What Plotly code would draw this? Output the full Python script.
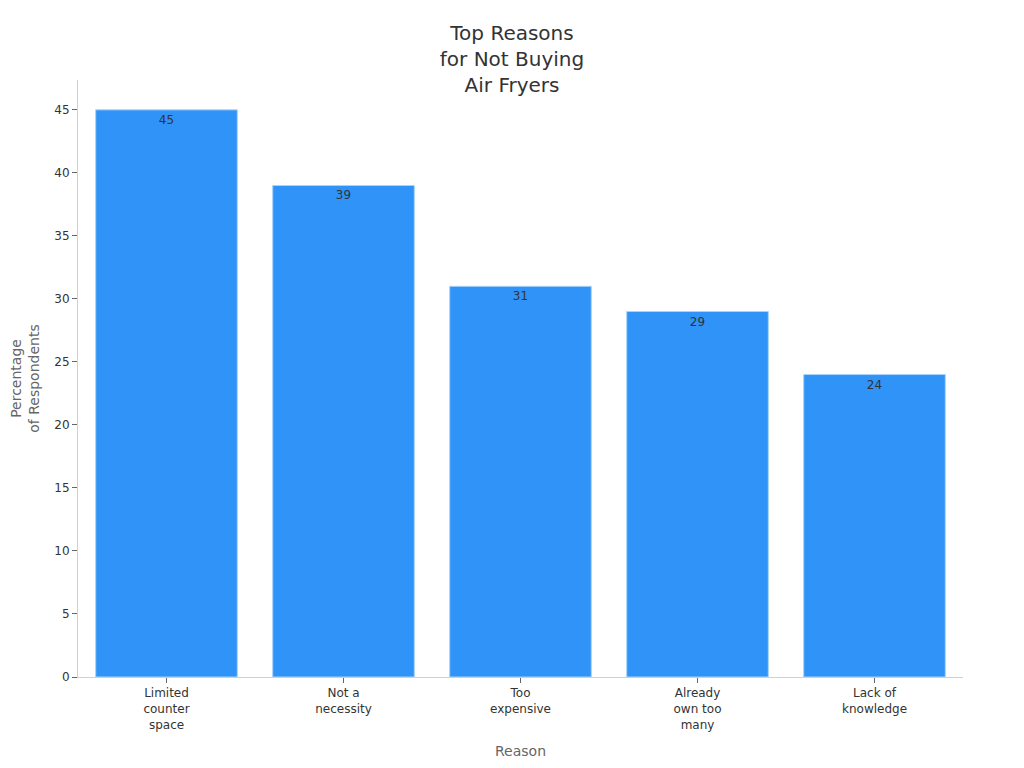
import plotly.graph_objs as go

# survey results
reasons = ['Limited<br>counter<br>space', 'Not a<br>necessity', 'Too<br>expensive',
           'Already<br>own too<br>many', 'Lack of<br>knowledge']
percentages = [45, 39, 31, 29, 24]

bar = go.Bar(x=reasons, y=percentages, text=percentages, textposition='inside',
             insidetextanchor='end', textfont=dict(color='#333333', size=12),
             marker=dict(color='#2f93f8', line=dict(color='#a9d2fb', width=1)))

# page body adds an 8px margin, so the figure is sized to fit inside it
layout = go.Layout(
    title=dict(text='Top Reasons<br>for Not Buying<br>Air Fryers', x=0.5, xanchor='center',
               y=0.958, yanchor='top', font=dict(size=20, color='#333333')),
    font=dict(family='DejaVu Sans', size=12, color='#333333'),
    paper_bgcolor='white', plot_bgcolor='white',
    width=1008, height=760,
    margin=dict(l=70, r=53, t=72, b=91),
    bargap=0.2,
    showlegend=False,
    xaxis=dict(title=dict(text='Reason', font=dict(size=14, color='#666666'), standoff=15),
               showline=True, linecolor='#d0d0d0', ticks='outside', ticklen=5,
               tickcolor='#666666', showgrid=False, automargin=False),
    yaxis=dict(title=dict(text='Percentage<br>of Respondents', font=dict(size=14, color='#666666')),
               showline=True, linecolor='#d0d0d0', ticks='outside', ticklen=5,
               tickcolor='#666666', showgrid=False, zeroline=False, dtick=5,
               automargin=False),
)

fig = go.Figure(data=[bar], layout=layout)
fig.write_html('out.html')
